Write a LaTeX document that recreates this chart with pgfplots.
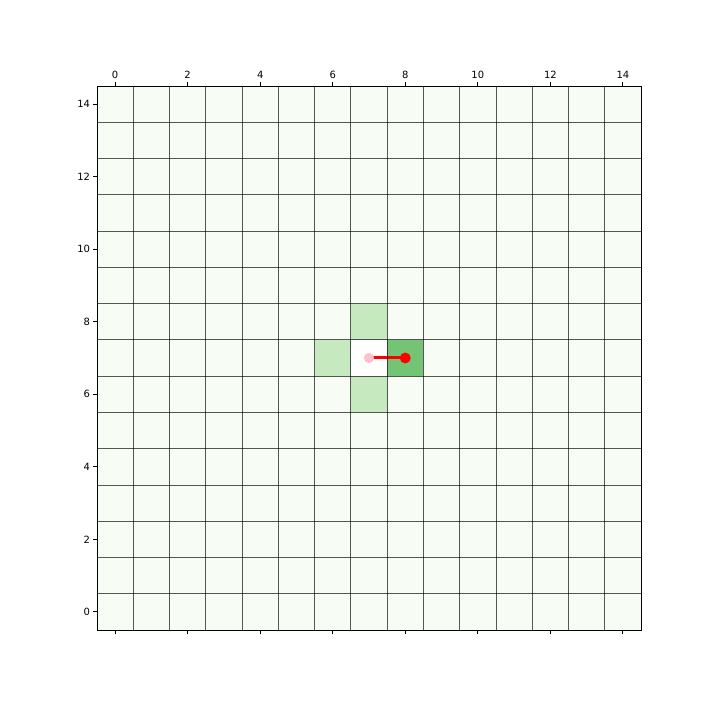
\documentclass[border=0pt]{standalone}
\usepackage{pgfplots}
\pgfplotsset{compat=1.18}
\usepackage{fontspec}
\setmainfont{DejaVu Sans}
\definecolor{bgc}{RGB}{247,252,245}
\definecolor{lightg}{RGB}{199,233,192}
\definecolor{darkg}{RGB}{116,196,118}
\definecolor{pinkm}{RGB}{255,192,203}
\begin{document}
\begin{tikzpicture}
\begin{axis}[
  scale only axis, width=544bp, height=544bp,
  xmin=-0.5, xmax=14.5, ymin=-0.5, ymax=14.5,
  axis background/.style={fill=bgc},
  xtick={0,2,...,14}, ytick={0,2,...,14},
  xtick pos=both, xticklabel pos=upper, ytick pos=left,
  tick align=outside, major tick length=3.5bp,
  minor xtick={-0.5,0.5,...,14.5}, minor ytick={-0.5,0.5,...,14.5},
  minor tick length=0pt,
  xminorgrids=true, yminorgrids=true,
  minor grid style={black, opacity=0.65, line width=0.8bp},
  axis on top,
  axis line style={black, line width=0.8bp},
  tick style={black, line width=0.8bp},
  ticklabel style={font=\fontsize{10}{12}\selectfont},
  /pgf/number format/assume math mode=true,
  xticklabel style={yshift=0.5bp},
]
% cells
\addplot[fill=lightg, draw=none] coordinates {(6.5,7.5) (7.5,7.5) (7.5,8.5) (6.5,8.5)} -- cycle;
\addplot[fill=lightg, draw=none] coordinates {(5.5,6.5) (6.5,6.5) (6.5,7.5) (5.5,7.5)} -- cycle;
\addplot[fill=lightg, draw=none] coordinates {(6.5,5.5) (7.5,5.5) (7.5,6.5) (6.5,6.5)} -- cycle;
\addplot[fill=white, draw=none] coordinates {(6.5,6.5) (7.5,6.5) (7.5,7.5) (6.5,7.5)} -- cycle;
\addplot[fill=darkg, draw=none] coordinates {(7.5,6.5) (8.5,6.5) (8.5,7.5) (7.5,7.5)} -- cycle;
% path
\addplot[only marks, color=pinkm, mark=*, mark size=4.8bp, mark options={fill=pinkm, draw=pinkm}] coordinates {(7,7)};
\addplot[red, line width=3bp, mark=none] coordinates {(7,7) (8,7)};
\addplot[only marks, color=red, mark=*, mark size=5.2bp, mark options={fill=red, draw=red}] coordinates {(8,7)};
\end{axis}
\path[use as bounding box] ([shift={(-97bp,-90bp)}]current axis.south west) rectangle ([shift={(79bp,86bp)}]current axis.north east);
\end{tikzpicture}
\end{document}
